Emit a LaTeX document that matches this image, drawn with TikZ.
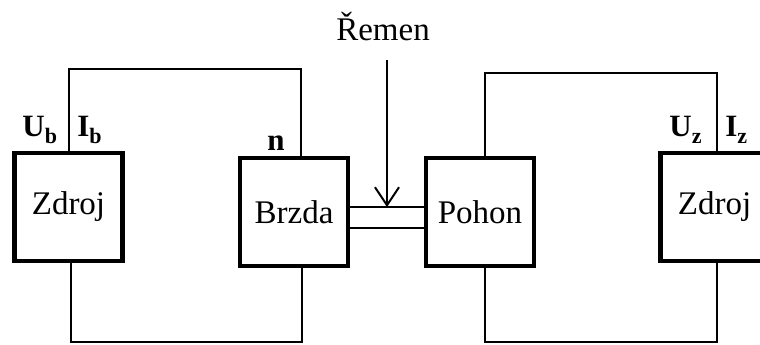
\documentclass[tikz,border=0pt]{standalone}
\usepackage{fontspec}
\setmainfont{Liberation Serif}
\usetikzlibrary{calc,arrows.meta}
\newcommand{\dolni}[1]{\raisebox{-3.5pt}{\fontsize{11}{12}\selectfont #1}}
\tikzset{
  blok/.style={draw,line width=2.2pt,minimum width=54pt,minimum height=54pt,inner sep=0pt,
    font=\fontsize{16.5}{19}\selectfont},
  vodic/.style={line width=1pt},
  popis/.style={inner sep=0pt,font=\fontsize{15.5}{18}\selectfont\bfseries},
}
\begin{document}
\begin{tikzpicture}[x=0.5pt,y=-0.5pt,line join=miter]
  \clip (0,0) rectangle (760,344);
  \node[blok] (zdrojL) at (68.5,207) {Zdroj};
  \node[blok] (brzda) at (294,212) {Brzda};
  \node[blok] (pohon) at (480,212) {Pohon};
  \node[blok] (zdrojR) at (714.5,207) {Zdroj};
  % levy obvod
  \draw[vodic] (zdrojL.north) -- ++(0,-82) -| ($(brzda.north)+(7,0)$);
  \draw[vodic] ($(zdrojL.south)+(2,0)$) -- ++(0,79) -| ($(brzda.south)+(8,0)$);
  % pravy obvod
  \draw[vodic] ($(pohon.north)+(5,0)$) -- ++(0,-83) -| ($(zdrojR.north)+(2,0)$);
  \draw[vodic] ($(pohon.south)+(5,0)$) -- ++(0,74) -| ($(zdrojR.south)+(2,0)$);
  % remen
  \coordinate (b1) at ($(brzda.east)+(0,-5)$);
  \coordinate (b2) at ($(pohon.west)+(0,-5)$);
  \draw[vodic] (b1) -- (b2);
  \draw[vodic] ($(brzda.east)+(0,16)$) -- ($(pohon.west)+(0,16)$);
  \coordinate (bm) at ($(b1)!0.5!(b2)$);
  \node[inner sep=0pt,anchor=base,font=\fontsize{16.5}{19}\selectfont] (remen) at (383,40) {Řemen};
  \draw[vodic,-{Straight Barb[length=9pt,width=12pt,line width=1pt]}] ($(bm)+(0,-147)$) -- (bm);
  % popisy
  \node[popis,anchor=base west] (ub) at (22,136) {U\dolni{b}};
  \node[popis,anchor=base west] (ib) at (77,136) {I\dolni{b}};
  \node[popis,anchor=base] (n) at (276,150) {n};
  \node[popis,anchor=base west] (uz) at (669,136) {U\dolni{z}};
  \node[popis,anchor=base west] (iz) at (725,136) {I\dolni{z}};
\end{tikzpicture}
\end{document}
